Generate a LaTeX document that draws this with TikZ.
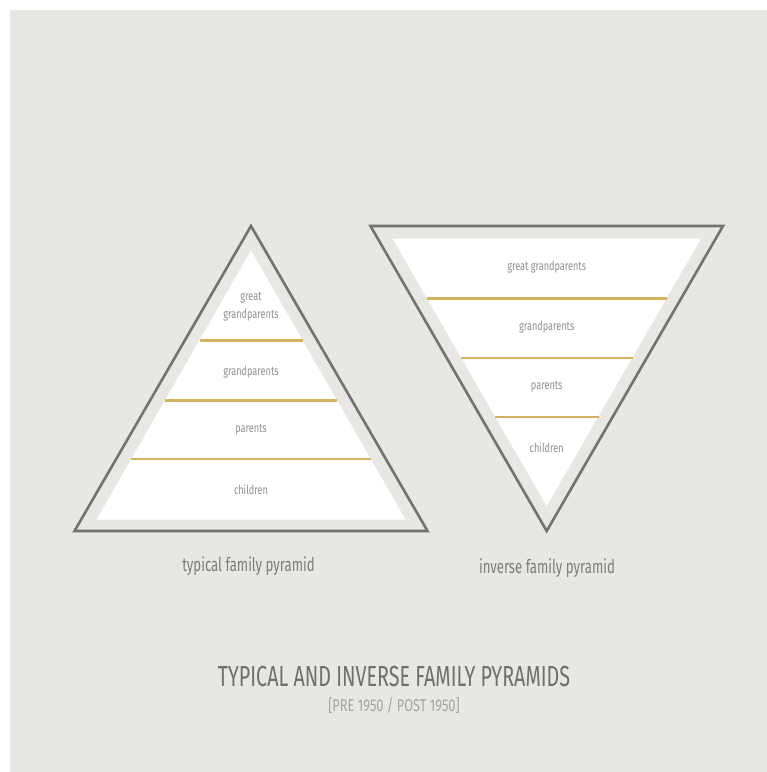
\documentclass[tikz,border=0pt]{standalone}
\usepackage{fontspec}
\setmainfont[FakeStretch=0.68]{Fira Sans}
\newfontfamily\lblfont[FakeStretch=0.73]{Fira Sans}
\newfontfamily\capfont[FakeStretch=0.695]{Fira Sans}
\newfontfamily\ttlfont[FakeStretch=0.68]{Fira Sans}
\newfontfamily\subfont[FakeStretch=0.75]{Fira Sans}
\definecolor{bgc}{HTML}{E8E7E3}
\definecolor{edgec}{HTML}{737270}
\definecolor{goldc}{HTML}{D6B25E}
\definecolor{lblc}{HTML}{8E8E8C}
\definecolor{capc}{HTML}{7C7C7A}
\definecolor{titlec}{HTML}{6F6F6D}
\definecolor{subc}{HTML}{A3A3A1}
\begin{document}
\begin{tikzpicture}[x=1pt,y=-1pt,
  outline/.style={draw=edgec,line width=2.6pt,fill=bgc,line join=miter},
  innertri/.style={fill=white,draw=none},
  tier/.style={draw=goldc,line width=2.6pt},
  lbl/.style={text=lblc,font=\lblfont\fontsize{12.5}{14}\selectfont,align=center,inner sep=0pt},
  captxt/.style={text=capc,font=\capfont\fontsize{19}{22}\selectfont,inner sep=0pt},
  ttl/.style={text=titlec,font=\ttlfont\fontsize{29}{32}\selectfont,inner sep=0pt},
  subtxt/.style={text=subc,font=\subfont\fontsize{17}{20}\selectfont,inner sep=0pt}]
\useasboundingbox (0,0) rectangle (767,772);
\fill[white] (0,0) rectangle (767,772);
\fill[bgc] (10,10) rectangle (767,772);
% left pyramid
\coordinate (la) at (251,226);
\coordinate (lb) at (74.5,531);
\coordinate (lc) at (427.5,531);
\draw[outline] (la) -- (lb) -- (lc) -- cycle;
\coordinate (lia) at (251,250.5);
\coordinate (lib) at (96.5,519.5);
\coordinate (lic) at (405.5,519.5);
\fill[innertri] (lia) -- (lib) -- (lic) -- cycle;
\coordinate (l1a) at (199.5,340.5); \coordinate (l1b) at (302.5,340.5);
\coordinate (l2a) at (165,400.5); \coordinate (l2b) at (337,400.5);
\coordinate (l3a) at (131,459); \coordinate (l3b) at (371,459);
\draw[tier] (l1a) -- (l1b);
\draw[tier] (l2a) -- (l2b);
\draw[tier] (l3a) -- (l3b);
\node[lbl] (lgg) at (251,306.5) {great\\[4pt]grandparents};
\node[lbl] (lg) at (251,372) {grandparents};
\node[lbl] (lp) at (251,430) {parents};
\node[lbl] (lch) at (251,489.5) {children};
% right pyramid
\coordinate (ra) at (370.5,226);
\coordinate (rb) at (723,226);
\coordinate (rc) at (546.7,531);
\draw[outline] (ra) -- (rb) -- (rc) -- cycle;
\coordinate (ria) at (392.5,238.5);
\coordinate (rib) at (701,238.5);
\coordinate (ric) at (546.7,506);
\fill[innertri] (ria) -- (rib) -- (ric) -- cycle;
\coordinate (r1a) at (426.5,298.5); \coordinate (r1b) at (666.5,298.5);
\coordinate (r2a) at (461,358); \coordinate (r2b) at (632.5,358);
\coordinate (r3a) at (494.5,417); \coordinate (r3b) at (599,417);
\draw[tier] (r1a) -- (r1b);
\draw[tier] (r2a) -- (r2b);
\draw[tier] (r3a) -- (r3b);
\node[lbl] (rgg) at (546.7,267) {great grandparents};
\node[lbl] (rg) at (546.7,327.5) {grandparents};
\node[lbl] (rp) at (546.7,387) {parents};
\node[lbl] (rch) at (546.7,448) {children};
% captions
\node[captxt] (lcap) at (248.5,566.5) {typical family pyramid};
\node[captxt] (rcap) at (547,568.5) {inverse family pyramid};
\node[ttl] (title) at (394,677) {TYPICAL AND INVERSE FAMILY PYRAMIDS};
\node[subtxt] (subt) at (394,705.5) {[PRE 1950 / POST 1950]};
\end{tikzpicture}
\end{document}
